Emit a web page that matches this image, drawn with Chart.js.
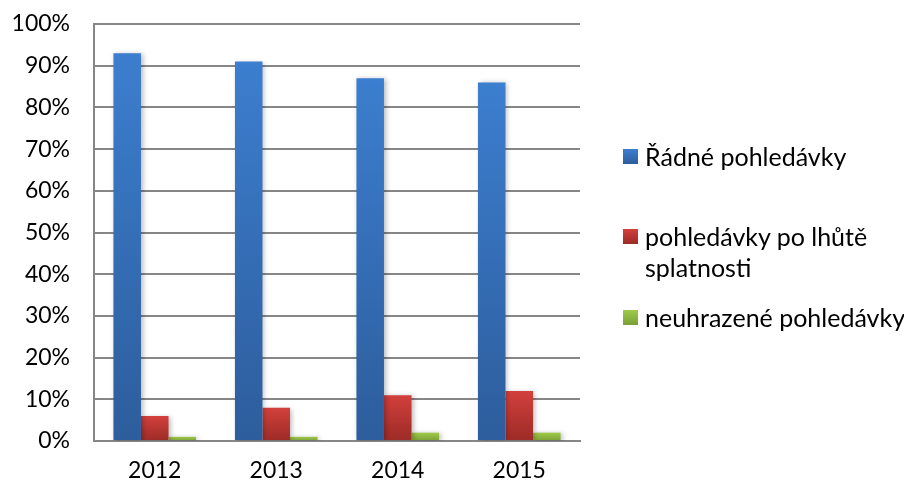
<!DOCTYPE html>
<html>
<head>
<meta charset="utf-8">
<script src="https://cdn.jsdelivr.net/npm/chart.js@4.4.0/dist/chart.umd.min.js"></script>
<style>
  html, body { margin: 0; padding: 0; background: #fff; }
  #wrap { position: relative; width: 904px; height: 485px; }
  #legend { position: absolute; left: 623px; top: 0; font-family: Lato, "Open Sans", sans-serif; font-size: 25px; color: #000; }
  .item { position: absolute; left: 0; white-space: nowrap; }
  .sw { position: absolute; left: 0; width: 15px; height: 15px; }
  .tx { position: absolute; left: 22px; line-height: 31px; }
</style>
</head>
<body>
<div id="wrap">
  <canvas id="c" width="904" height="485"></canvas>
  <div id="legend"></div>
</div>
<script>
const categories = ['2012', '2013', '2014', '2015'];
const radne = [93, 91, 87, 86];
const poLhute = [6, 8, 11, 12];
const neuhrazene = [1, 1, 2, 2];
const seriesNames = ['Řádné pohledávky', 'pohledávky po lhůtě splatnosti', 'neuhrazené pohledávky'];
const legendLines = [['Řádné pohledávky'], ['pohledávky po lhůtě', 'splatnosti'], ['neuhrazené pohledávky']];

const gradColors = [
  ['#3C7ECF', '#2D5D9C'],
  ['#D3403C', '#9C2B27'],
  ['#9FCA4A', '#7A9F36']
];

function barGradient(idx) {
  return function(ctx) {
    const chart = ctx.chart;
    const area = chart.chartArea;
    if (!area || ctx.type !== 'data') return gradColors[idx][0];
    const y = chart.scales.y;
    const top = y.getPixelForValue(ctx.parsed ? ctx.parsed.y : ctx.raw);
    const base = y.getPixelForValue(0);
    if (!isFinite(top) || !isFinite(base) || base - top < 1) return gradColors[idx][0];
    const g = chart.ctx.createLinearGradient(0, top, 0, base);
    g.addColorStop(0, gradColors[idx][0]);
    g.addColorStop(1, gradColors[idx][1]);
    return g;
  };
}

const shadowPlugin = {
  id: 'barShadow',
  beforeDatasetsDraw(chart) {
    const c = chart.ctx;
    c.save();
    c.shadowColor = 'rgba(0,0,0,0.28)';
    c.shadowBlur = 5;
    c.shadowOffsetX = 2;
    c.shadowOffsetY = 1;
  },
  afterDatasetsDraw(chart) {
    chart.ctx.restore();
  }
};

const seriesData = [radne, poLhute, neuhrazene];

new Chart(document.getElementById('c'), {
  type: 'bar',
  data: {
    labels: categories,
    datasets: seriesData.map((d, i) => ({
      label: seriesNames[i],
      data: d,
      backgroundColor: barGradient(i),
      borderWidth: 0,
      categoryPercentage: 0.68,
      barPercentage: 1.0
    }))
  },
  plugins: [shadowPlugin],
  options: {
    responsive: false,
    animation: false,
    layout: { padding: { top: 24, right: 324, bottom: 0, left: 0 } },
    plugins: { legend: { display: false }, tooltip: { enabled: false } },
    scales: {
      x: {
        grid: { display: false, drawTicks: false },
        border: { display: true, color: '#868686', width: 2 },
        ticks: { color: '#000', font: { family: 'Lato', size: 23 }, padding: 16 },
        afterFit(s) { s.height = 44; s.paddingLeft = 0; s.paddingRight = 0; }
      },
      y: {
        min: 0, max: 100,
        ticks: {
          stepSize: 10, color: '#000', padding: 24,
          font: { family: 'Lato', size: 23 },
          callback: v => v + '%'
        },
        grid: { color: '#868686', lineWidth: 2, drawTicks: false },
        border: { display: true, color: '#868686', width: 2 },
        afterFit(s) { s.width = 94; s.paddingTop = 0; s.paddingBottom = 0; }
      }
    }
  }
});

const legend = document.getElementById('legend');
const rowTops = [141, 221, 302];
legendLines.forEach((lines, i) => {
  const item = document.createElement('div');
  item.className = 'item';
  item.style.top = rowTops[i] + 'px';
  const sw = document.createElement('div');
  sw.className = 'sw';
  sw.style.top = '8px';
  sw.style.background = 'linear-gradient(' + gradColors[i][0] + ',' + gradColors[i][1] + ')';
  const tx = document.createElement('div');
  tx.className = 'tx';
  tx.innerHTML = lines.map(l => l.replace(/&/g, '&amp;')).join('<br>');
  item.appendChild(sw);
  item.appendChild(tx);
  legend.appendChild(item);
});
</script>
</body>
</html>
